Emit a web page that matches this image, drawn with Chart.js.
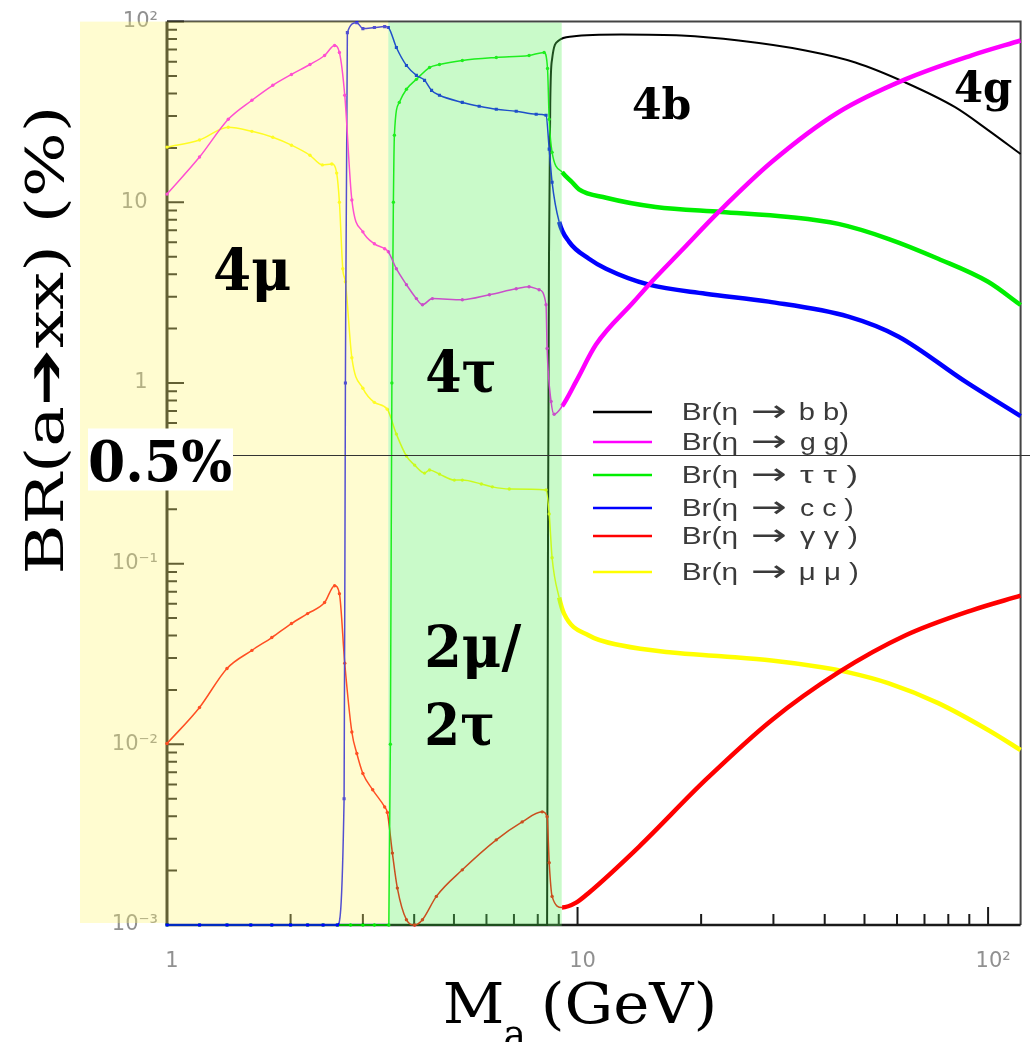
<!DOCTYPE html>
<html>
<head>
<meta charset="utf-8">
<script src="https://cdn.jsdelivr.net/npm/chart.js@4/dist/chart.umd.min.js"></script>
<style>
html,body{margin:0;padding:0;background:#ffffff;}
canvas{display:block;}
</style>
</head>
<body>
<canvas id="c" width="1030" height="1042"></canvas>
<script>
// ---------------- data ----------------
const massRange = [1, 120];
const brRange = [0.001, 100];
const massAxisTicks = [1, 10, 100];
const massAxisLabels = ['1', '10', '10²'];
const brAxisTicks = [0.001, 0.01, 0.1, 1, 10, 100];
const brAxisLabels = ['10⁻³', '10⁻²', '10⁻¹', '1', '10', '10²'];
const massMinorTicks = [2, 3, 4, 5, 6, 7, 8, 9, 20, 30, 40, 50, 60, 70, 80, 90];
const brMinorTicks = [0.002,0.003,0.004,0.005,0.006,0.007,0.008,0.009,
  0.02,0.03,0.04,0.05,0.06,0.07,0.08,0.09,0.2,0.3,0.4,0.5,0.6,0.7,0.8,0.9,
  2,3,4,5,6,7,8,9,20,30,40,50,60,70,80,90];

const seriesLabels = ['Br(η → b b)', 'Br(η → g g)', 'Br(η → τ τ )', 'Br(η → c c )', 'Br(η → γ γ )', 'Br(η → μ μ )'];
const seriesColors = ['#000000', '#ff00ff', '#00ee00', '#0000ff', '#ff0000', '#ffff00'];

const bbMass = [1, 2, 3, 4, 5, 6, 7, 8, 8.43, 8.47, 8.52, 8.58, 8.67, 9.0, 9.7, 12.8, 17.9, 24.7, 35.9, 47.5, 62.8, 83.1, 100, 120];
const bbBR   = [0.001, 0.001, 0.001, 0.001, 0.001, 0.001, 0.001, 0.001, 0.001, 0.1, 5, 35, 62, 78.5, 82.7, 84.8, 83.7, 78.5, 69.2, 59.4, 46.1, 33.6, 25.1, 18.5];

const ggMass = [1.0, 1.2, 1.41, 1.61, 1.81, 2.01, 2.23, 2.42, 2.56, 2.63, 2.71, 2.82, 3.0, 3.2, 3.39, 3.46, 3.62, 3.83, 4.05, 4.19, 4.43, 5.24, 6.1, 7.09, 7.62, 8.06, 8.38, 8.43, 8.62, 8.77, 9.17, 9.92, 11.09, 13.72, 14.92, 17.9, 22.07, 29.7, 43.2, 62.8, 90.9, 120];
const ggBR   = [11.1, 17.8, 28.8, 36.7, 44.4, 51.0, 57.9, 64.9, 73.7, 67.5, 39.1, 10.3, 6.86, 5.89, 5.53, 5.32, 4.29, 3.5, 2.93, 2.71, 2.93, 2.89, 3.08, 3.32, 3.41, 3.28, 2.71, 1.55, 0.79, 0.671, 0.743, 1.02, 1.63, 2.82, 3.5, 5.39, 8.84, 16.7, 31.5, 47.9, 64.9, 78.6];

const ttMass = [1, 1.2, 1.4, 1.6, 1.8, 2.0, 2.2, 2.4, 2.6, 2.8, 3.0, 3.2, 3.47, 3.50, 3.53, 3.56, 3.58, 3.68, 3.83, 4.05, 4.36, 4.61, 5.24, 6.34, 7.62, 8.29, 8.45, 8.53, 8.67, 9.17, 9.7, 10.08, 11.73, 15.5, 22.4, 32.7, 43.2, 57.1, 75.6, 100, 120];
const ttBR   = [0.001, 0.001, 0.001, 0.001, 0.001, 0.001, 0.001, 0.001, 0.001, 0.001, 0.001, 0.001, 0.001, 0.01, 1.0, 10, 23.5, 35.7, 42.2, 47.9, 55.7, 57.9, 60.9, 63.3, 64.9, 67.5, 55, 28.8, 18.9, 14.7, 12.9, 11.8, 10.6, 9.42, 8.84, 8.29, 7.59, 6.28, 4.87, 3.63, 2.7];

const ccMass = [1, 1.2, 1.4, 1.6, 1.8, 2.0, 2.2, 2.4, 2.6, 2.70, 2.72, 2.75, 2.9, 3.0, 3.2, 3.39, 3.46, 3.62, 3.83, 4.05, 4.24, 4.41, 4.61, 5.24, 5.76, 6.34, 7.09, 7.93, 8.38, 8.53, 8.67, 9.02, 9.54, 10.66, 11.73, 14.92, 20.5, 29.2, 45.7, 60.4, 87.9, 120];
const ccBR   = [0.001, 0.001, 0.001, 0.001, 0.001, 0.001, 0.001, 0.001, 0.001, 0.005, 1.0, 86.9, 98.7, 91.5, 92.7, 93.8, 92.7, 71.9, 57.2, 50.4, 47.3, 41.6, 39.1, 35.7, 34.0, 32.7, 31.9, 30.7, 30.3, 19.7, 12.9, 7.79, 6.04, 4.87, 4.29, 3.50, 3.12, 2.82, 2.33, 1.81, 1.02, 0.655];

const yyMass = [1.0, 1.2, 1.4, 1.61, 1.8, 2.01, 2.2, 2.42, 2.56, 2.63, 2.71, 2.82, 2.9, 3.0, 3.17, 3.39, 3.44, 3.54, 3.64, 3.83, 4.01, 4.19, 4.53, 5.24, 6.34, 7.33, 8.2, 8.43, 8.53, 8.67, 9.17, 9.92, 10.66, 14.11, 20.5, 29.7, 43.2, 62.8, 90.9, 120];
const yyBR   = [0.0101, 0.016, 0.0263, 0.0331, 0.039, 0.0466, 0.0529, 0.0609, 0.0755, 0.0682, 0.0281, 0.0117, 0.0089, 0.0069, 0.0056, 0.0045, 0.0042, 0.0025, 0.0016, 0.00107, 0.001, 0.00107, 0.00144, 0.00202, 0.00296, 0.00372, 0.00423, 0.00397, 0.00221, 0.00144, 0.00125, 0.00133, 0.00151, 0.00271, 0.00635, 0.0136, 0.025, 0.04, 0.055, 0.0665];

const mmMass = [1.0, 1.2, 1.41, 1.61, 1.81, 2.01, 2.23, 2.39, 2.52, 2.59, 2.63, 2.68, 2.72, 2.82, 3.0, 3.2, 3.44, 3.62, 3.83, 4.01, 4.24, 4.36, 4.61, 5.01, 5.24, 5.83, 6.2, 6.82, 8.38, 8.53, 8.67, 9.02, 9.27, 10.66, 12.83, 16.97, 22.4, 29.7, 39.3, 45.7, 57.1, 75.6, 100, 120];
const mmBR   = [20.2, 22.1, 26.0, 24.7, 22.9, 20.7, 18.2, 16.1, 16.3, 14.5, 10.0, 4.29, 3.63, 1.38, 0.934, 0.781, 0.715, 0.521, 0.394, 0.351, 0.317, 0.330, 0.313, 0.290, 0.290, 0.276, 0.266, 0.259, 0.256, 0.1885, 0.1078, 0.0649, 0.0529, 0.040, 0.0352, 0.0322, 0.0307, 0.0291, 0.0267, 0.025, 0.0218, 0.0169, 0.012, 0.0093];

const muRegionMass = [1, 3.46];     // 4μ region (yellow)
const tauRegionMass = [3.46, 9.15]; // 4τ region (green)
const markerLineBR = 0.4;           // horizontal reference line as drawn
const markerLabel = '0.5%';
const regionLabels = ['4μ', '4τ', '2μ/', '2τ', '4b', '4g'];
const yTitle = 'BR(a➔xx) (%)';
const xTitleMain = 'M';
const xTitleSub = 'a';
const xTitleUnit = '(GeV)';

// ---------------- chart ----------------
const thickFrom = 9.0;
const pts = (xs, ys) => xs.map((x, i) => ({x: x, y: ys[i]}));

function series(idx, xs, ys, order, opts) {
  const color = seriesColors[idx];
  return Object.assign({
    label: seriesLabels[idx],
    data: pts(xs, ys),
    borderColor: color,
    backgroundColor: color,
    pointBackgroundColor: color,
    pointBorderWidth: 0,
    pointRadius: (c) => (c.raw && c.raw.x < thickFrom ? 1.7 : 0),
    pointHoverRadius: 0,
    borderWidth: 1.5,
    cubicInterpolationMode: 'monotone',
    fill: false,
    clip: 6,
    order: order,
    segment: { borderWidth: (c) => (c.p0.parsed.x >= thickFrom ? 4.5 : 1.5) }
  }, opts || {});
}

const datasets = [
  series(0, bbMass, bbBR, 6, { pointRadius: 0, borderWidth: 2, segment: { borderWidth: () => 2 } }),
  series(1, ggMass, ggBR, 1),
  series(2, ttMass, ttBR, 3),
  series(3, ccMass, ccBR, 2, { pointRadius: (c) => (c.raw && c.raw.x < thickFrom ? 2.2 : 0), pointStyle: 'rect' }),
  series(4, yyMass, yyBR, 4),
  series(5, mmMass, mmBR, 5)
];

function drawFit(ctx, text, x, y, w, font, color) {
  ctx.save();
  ctx.font = font;
  ctx.fillStyle = color;
  ctx.textAlign = 'left';
  ctx.textBaseline = 'alphabetic';
  const m = ctx.measureText(text);
  const ink = m.actualBoundingBoxLeft + m.actualBoundingBoxRight;
  const sx = w ? w / ink : 1;
  ctx.translate(x, y);
  ctx.scale(sx, 1);
  ctx.fillText(text, m.actualBoundingBoxLeft, 0);
  ctx.restore();
}

const framePlugin = {
  id: 'frame',
  beforeDraw(chart) {
    const ctx = chart.ctx;
    ctx.save();
    ctx.fillStyle = '#ffffff';
    ctx.fillRect(0, 0, chart.width, chart.height);
    ctx.restore();
  },
  beforeDatasetsDraw(chart) {
    const ctx = chart.ctx, a = chart.chartArea;
    const xs = chart.scales.x, ys = chart.scales.y;
    ctx.save();
    ctx.strokeStyle = '#444';
    ctx.lineWidth = 2;
    ctx.beginPath();
    ctx.moveTo(a.left, a.top); ctx.lineTo(a.right, a.top); ctx.lineTo(a.right, a.bottom);
    ctx.stroke();
    ctx.strokeStyle = '#1a1a1a';
    ctx.lineWidth = 3;
    ctx.beginPath(); ctx.moveTo(a.left, a.top); ctx.lineTo(a.left, a.bottom); ctx.stroke();
    ctx.lineWidth = 2.5;
    ctx.beginPath(); ctx.moveTo(a.left, a.bottom); ctx.lineTo(a.right, a.bottom); ctx.stroke();
    ctx.lineWidth = 2;
    ctx.beginPath();
    brAxisTicks.forEach(v => { const p = ys.getPixelForValue(v); ctx.moveTo(a.left, p); ctx.lineTo(a.left + 17, p); });
    brMinorTicks.forEach(v => { const p = ys.getPixelForValue(v); ctx.moveTo(a.left, p); ctx.lineTo(a.left + 10, p); });
    massAxisTicks.forEach(v => { const p = xs.getPixelForValue(v); ctx.moveTo(p, a.bottom); ctx.lineTo(p, a.bottom - 18); });
    massMinorTicks.forEach(v => { const p = xs.getPixelForValue(v); ctx.moveTo(p, a.bottom); ctx.lineTo(p, a.bottom - 11); });
    ctx.stroke();
    ctx.restore();
  },
  afterDatasetsDraw(chart) {
    const ctx = chart.ctx, a = chart.chartArea;
    const xs = chart.scales.x;
    const y0 = xs.getPixelForValue(muRegionMass[1]);
    const g1 = xs.getPixelForValue(tauRegionMass[1]);
    ctx.save();
    ctx.fillStyle = 'rgba(255,245,110,0.32)';
    ctx.fillRect(a.left - 87, a.top, y0 - (a.left - 87), a.bottom - a.top - 2);
    ctx.fillStyle = 'rgba(90,240,90,0.33)';
    ctx.fillRect(y0, a.top + 1, g1 - y0, a.bottom - a.top);
    ctx.restore();
  },
  afterDraw(chart) {
    const ctx = chart.ctx;
    const ys = chart.scales.y;
    ctx.save();
    const ly = Math.round(ys.getPixelForValue(markerLineBR)) + 0.5;
    ctx.strokeStyle = '#333';
    ctx.lineWidth = 1;
    ctx.beginPath(); ctx.moveTo(88, ly); ctx.lineTo(chart.width, ly); ctx.stroke();
    ctx.fillStyle = '#ffffff';
    ctx.fillRect(88, ly - 27, 145, 62);
    drawFit(ctx, markerLabel, 90, ly + 25, 141, "bold 56px 'DejaVu Serif'", '#000');
    const big = "bold 58px 'DejaVu Serif'";
    const small = "bold 42px 'DejaVu Serif'";
    drawFit(ctx, regionLabels[0], 215, 290, 75, big, '#000');
    drawFit(ctx, regionLabels[1], 427, 392, 68, big, '#000');
    drawFit(ctx, regionLabels[2], 427, 667, 95, big, '#000');
    drawFit(ctx, regionLabels[3], 427, 745, 66, big, '#000');
    drawFit(ctx, regionLabels[4], 633, 119, 57, small, '#000');
    drawFit(ctx, regionLabels[5], 955, 102, 57, small, '#000');
    // legend
    const rows = [412, 442, 475, 508, 536, 572];
    const tailW = [48, 48, 57, 53, 57, 58];
    const lf = "23px 'Liberation Sans'";
    chart.data.datasets.forEach((ds, i) => {
      const ry = rows[i];
      ctx.strokeStyle = seriesColors[i];
      ctx.lineWidth = 2.5;
      ctx.beginPath(); ctx.moveTo(593, ry); ctx.lineTo(652, ry); ctx.stroke();
      const parts = ds.label.split('→');
      drawFit(ctx, parts[0].trim(), 683, ry + 8, 54, lf, '#3a3a3a');
      drawFit(ctx, '→', 752, ry + 9, 33, "30px 'DejaVu Sans'", '#3a3a3a');
      drawFit(ctx, parts[1].trim(), 800, ry + 8, tailW[i], lf, '#3a3a3a');
    });
    ctx.save();
    ctx.translate(63, 572);
    ctx.rotate(-Math.PI / 2);
    drawFit(ctx, yTitle, 0, 0, 462, "52px 'DejaVu Serif'", '#000');
    ctx.restore();
    drawFit(ctx, xTitleMain, 445, 1023, 57, "56px 'DejaVu Serif'", '#000');
    drawFit(ctx, xTitleSub, 505, 1050, 20, "44px 'DejaVu Serif'", '#000');
    drawFit(ctx, xTitleUnit, 545, 1023, 168, "56px 'DejaVu Serif'", '#000');
    ctx.restore();
  }
};

new Chart(document.getElementById('c'), {
  type: 'line',
  data: { datasets: datasets },
  plugins: [framePlugin],
  options: {
    responsive: false,
    animation: false,
    devicePixelRatio: 1,
    layout: { padding: { left: 0, right: 9, top: 19, bottom: 0 } },
    plugins: { legend: { display: false }, tooltip: { enabled: false } },
    scales: {
      x: {
        type: 'logarithmic',
        position: 'bottom',
        min: massRange[0], max: massRange[1],
        afterBuildTicks: (s) => { s.ticks = massAxisTicks.map(v => ({ value: v })); },
        afterFit: (s) => { s.height = 117; },
        grid: { display: false, drawTicks: false },
        border: { display: false },
        ticks: {
          autoSkip: false, maxRotation: 0, minRotation: 0,
          padding: 24, labelOffset: 5,
          color: '#909090',
          font: { family: 'DejaVu Sans', size: 21 },
          callback: (v, i) => massAxisLabels[i]
        }
      },
      y: {
        type: 'logarithmic',
        position: 'left',
        min: brRange[0], max: brRange[1],
        afterBuildTicks: (s) => { s.ticks = brAxisTicks.map(v => ({ value: v })); },
        afterFit: (s) => { s.width = 167; },
        grid: { display: false, drawTicks: false },
        border: { display: false },
        ticks: {
          autoSkip: false,
          padding: 9,
          color: '#909090',
          font: { family: 'DejaVu Sans', size: 21 },
          callback: (v, i) => {
            const t = brAxisLabels[i];
            return /[⁻²³¹]/.test(t) ? t : t + '\u2002';
          }
        }
      }
    }
  }
});
</script>
</body>
</html>
